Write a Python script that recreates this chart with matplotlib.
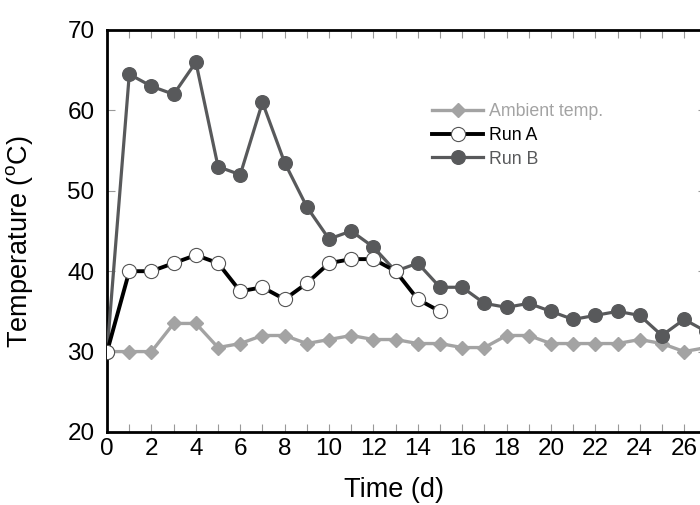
import matplotlib

matplotlib.use("Agg")
import matplotlib.pyplot as plt
import numpy as np
from matplotlib.ticker import MultipleLocator, FuncFormatter

plt.rcParams["font.family"] = ["Liberation Sans", "DejaVu Sans"]
plt.rcParams["mathtext.fontset"] = "custom"
plt.rcParams["mathtext.rm"] = "Liberation Sans"

# ── data (day, temperature in oC) ──
days = np.arange(0, 28)
ambient = [30, 30, 30, 33.5, 33.5, 30.5, 31, 32, 32, 31, 31.5, 32, 31.5, 31.5,
           31, 31, 30.5, 30.5, 32, 32, 31, 31, 31, 31, 31.5, 31, 30, 30.5]
run_a_days = np.arange(0, 16)
run_a = [30, 40, 40, 41, 42, 41, 37.5, 38, 36.5, 38.5, 41, 41.5, 41.5, 40,
         36.5, 35]
run_b = [30, 64.5, 63, 62, 66, 53, 52, 61, 53.5, 48, 44, 45, 43, 40, 41, 38,
         38, 36, 35.5, 36, 35, 34, 34.5, 35, 34.5, 32, 34, 32.5]

C_AMB = "#a3a3a3"
C_B = "#58595b"

fig = plt.figure(figsize=(7.0, 5.05), dpi=100)
# axes runs slightly past the right edge, as in the cropped original
ax = fig.add_axes([0.153, 0.1446, 0.856, 0.796])

ax.plot(days, ambient, color=C_AMB, lw=2.4, marker="D", ms=6.8,
        mfc=C_AMB, mec=C_AMB, zorder=2, label="Ambient temp.")
ax.plot(days, run_b, color=C_B, lw=2.3, marker="o", ms=9.8,
        mfc=C_B, mec=C_B, zorder=3, label="Run B")
ax.plot(run_a_days, run_a, color="black", lw=2.8, marker="o", ms=10.2,
        mfc="white", mec="#555555", mew=0.8, zorder=4, label="Run A")

ax.set_xlim(0, 27)
ax.set_ylim(20, 70)
ax.xaxis.set_major_locator(MultipleLocator(1))
ax.xaxis.set_major_formatter(
    FuncFormatter(lambda v, _: f"{int(v)}" if int(v) % 2 == 0 else ""))
ax.yaxis.set_major_locator(MultipleLocator(10))

ax.tick_params(axis="both", direction="in", length=6, width=0.8,
               color="#999999", labelsize=17.5, top=True, right=True)
ax.tick_params(axis="x", pad=4)
ax.tick_params(axis="y", pad=9)

for sp in ax.spines.values():
    sp.set_linewidth(2.0)
    sp.set_color("black")

ax.set_xlabel("Time (d)", fontsize=19.5)
ax.set_ylabel(r"Temperature ($^{\mathrm{o}}$C)", fontsize=19.5)
ax.xaxis.set_label_coords(0.479, -0.112)
ax.yaxis.set_label_coords(-0.12, 0.473)

handles, labels = ax.get_legend_handles_labels()
order = [0, 2, 1]
leg = ax.legend([handles[i] for i in order], [labels[i] for i in order],
                loc="upper left", bbox_to_anchor=(0.53, 0.835),
                frameon=False, fontsize=12.8, handlelength=2.9,
                handletextpad=0.34, labelspacing=0.37, borderaxespad=0)
for txt, col in zip(leg.get_texts(), [C_AMB, "black", C_B]):
    txt.set_color(col)

fig.savefig("out.png", dpi=100)
